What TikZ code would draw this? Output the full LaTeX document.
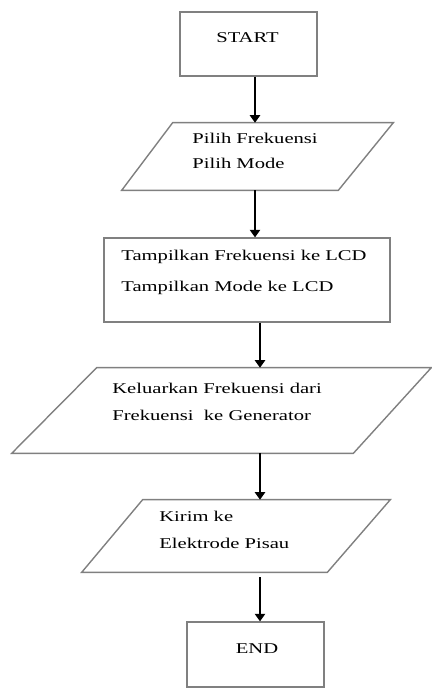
\documentclass[tikz,border=0pt]{standalone}
\usepackage{fontspec}
\setmainfont{Liberation Serif}[FakeStretch=1.38]
\usetikzlibrary{arrows.meta}

\newcommand{\boxLineWidth}{0.8pt}
\newcommand{\arrowLineWidth}{0.6pt}
\newcommand{\spineUpperX}{255}
\newcommand{\spineLowerX}{260}

\tikzset{
  boxline/.style={draw=black!50, line width=\boxLineWidth},
  procbox/.style={boxline, rectangle, inner sep=0pt},
  iobox/.style={rectangle, inner sep=0pt},
  txt/.style={inner sep=0pt, align=left, font=\fontsize{8.5}{15.3}\selectfont},
  flow/.style={-{Triangle[length=1.5mm,width=2.1mm]}, line width=\arrowLineWidth, black},
}

\begin{document}
\begin{tikzpicture}[x=0.02cm, y=-0.02cm]
        \useasboundingbox (0,0) rectangle (432,689);

        % Shapes
        \node[procbox, minimum width=2.74cm, minimum height=1.28cm] (start) at (248.5,44) {};
        \node[iobox, minimum width=5.42cm, minimum height=1.34cm] (pilih) at (257.5,156.5) {};
        \node[procbox, minimum width=5.72cm, minimum height=1.68cm] (tampil) at (247,280) {};
        \node[iobox, minimum width=8.38cm, minimum height=1.70cm] (keluar) at (221.5,410.5) {};
        \node[iobox, minimum width=6.16cm, minimum height=1.44cm] (kirim) at (236,536) {};
        \node[procbox, minimum width=2.74cm, minimum height=1.30cm] (end) at (255.5,654.5) {};

        % Parallelogram outlines
        \draw[boxline] ([xshift=1.02cm]pilih.north west) -- (pilih.north east) -- ([xshift=-1.10cm]pilih.south east) -- (pilih.south west) -- cycle;
        \draw[boxline] ([xshift=1.70cm]keluar.north west) -- (keluar.north east) -- ([xshift=-1.56cm]keluar.south east) -- (keluar.south west) -- cycle;
        \draw[boxline] ([xshift=1.22cm]kirim.north west) -- (kirim.north east) -- ([xshift=-1.26cm]kirim.south east) -- (kirim.south west) -- cycle;

        % Texts
        \node[txt] (startText) at (247.5,38) {START};
        \node[txt, anchor=west, font=\fontsize{8.5}{14.2}\selectfont] (pilihText) at (192,150.5) {Pilih Frekuensi\\Pilih Mode};
        \node[txt, anchor=west, font=\fontsize{8.5}{17.6}\selectfont] (tampilText) at (121,272.5) {Tampilkan Frekuensi ke LCD\\Tampilkan Mode ke LCD};
        \node[txt, anchor=west] (keluarText) at (112,401.5) {Keluarkan Frekuensi dari\\Frekuensi~ ke Generator};
        \node[txt, anchor=west] (kirimText) at (159,529.5) {Kirim ke\\Elektrode Pisau};
        \node[txt] (endText) at (257,649) {END};

        % Connectors
        \coordinate (spineUpper) at (\spineUpperX,0);
        \coordinate (spineLower) at (\spineLowerX,0);
        \draw[flow] (start.south -| spineUpper) -- (pilih.north -| spineUpper);
        \draw[flow] (pilih.south -| spineUpper) -- (tampil.north -| spineUpper);
        \draw[flow] (tampil.south -| spineLower) -- (keluar.north -| spineLower);
        \draw[flow] (keluar.south -| spineLower) -- (kirim.north -| spineLower);
        \draw[flow, shorten <=0.1cm] (kirim.south -| spineLower) -- (end.north -| spineLower);
    \end{tikzpicture}
\end{document}
